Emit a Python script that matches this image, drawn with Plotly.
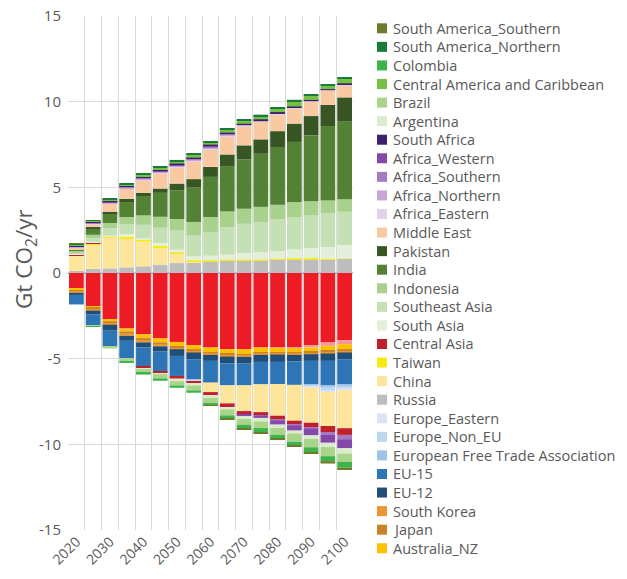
import plotly.graph_objects as go

# ── Data (Gt CO2/yr), 2020-2100 in 5-year steps ─────────────────────────────
years = [2020, 2025, 2030, 2035, 2040, 2045, 2050, 2055, 2060,
         2065, 2070, 2075, 2080, 2085, 2090, 2095, 2100]
x_labels = [2020, 2030, 2040, 2050, 2060, 2070, 2080, 2090, 2100]
y_ticks = [-15, -10, -5, 0, 5, 10, 15]
y_labels = ["-15", "-10", "-5", "0", "5", "10", "15"]

usa = [-0.90, -1.95, -2.73, -3.24, -3.57, -3.82, -4.02, -4.21, -4.35,
       -4.45, -4.45, -4.35, -4.35, -4.35, -4.21, -4.05, -3.92]
canada = [-0.02, 0, 0, 0, 0, 0, 0, 0, 0,
          0, 0, 0, -0.02, -0.04, -0.14, -0.20, -0.23]
australia_nz = [-0.08, -0.06, -0.08, -0.17, -0.23, -0.23, -0.27, -0.23, -0.29,
                -0.25, -0.29, -0.29, -0.25, -0.25, -0.25, -0.29, -0.29]
japan = [-0.08, -0.10, -0.12, -0.14, -0.14, -0.13, -0.10, -0.12, -0.08,
         -0.10, -0.09, -0.08, -0.08, -0.08, -0.08, -0.09, -0.12]
south_korea = [-0.08, -0.09, -0.09, -0.12, -0.11, -0.10, -0.06, -0.08, -0.06,
               -0.08, -0.07, -0.06, -0.06, -0.06, -0.06, -0.07, -0.08]
eu_12 = [-0.12, -0.23, -0.35, -0.29, -0.29, -0.31, -0.39, -0.39, -0.35,
         -0.39, -0.39, -0.41, -0.43, -0.39, -0.39, -0.43, -0.39]
eu_15 = [-0.55, -0.64, -0.92, -1.01, -1.11, -1.17, -1.17, -1.21, -1.27,
         -1.29, -1.27, -1.31, -1.29, -1.36, -1.36, -1.46, -1.46]
efta = [-0.02, 0, 0, 0, -0.01, 0, 0, -0.02, 0,
        0, 0, 0, 0, 0, -0.06, -0.10, -0.10]
europe_non_eu = [0, 0, 0, 0, -0.01, 0, 0, -0.02, 0,
                 0, 0, 0, 0, 0, -0.08, -0.14, -0.15]
europe_eastern = [0, 0, 0, 0, 0, 0, 0, -0.02, 0,
                  0, 0, 0, 0, 0, -0.06, -0.11, -0.10]
russia = [0.12, 0.25, 0.27, 0.33, 0.39, 0.49, 0.58, 0.64, 0.66,
          0.72, 0.72, 0.72, 0.76, 0.80, 0.80, 0.76, 0.82]
china = [0.88, 1.42, 1.79, 1.70, 1.44, 1.01, 0.58, 0.02, -0.55,
         -1.05, -1.50, -1.62, -1.85, -2.09, -2.05, -1.99, -2.22]
taiwan = [0.02, 0.03, 0.06, 0.10, 0.12, 0.10, 0.04, 0.08, 0.08,
          0.06, 0.06, 0.06, 0.06, 0.06, 0.06, 0.06, 0.02]
central_asia = [0.06, 0.08, 0, 0, -0.10, -0.08, -0.16, -0.12, -0.18,
                -0.21, -0.20, -0.18, -0.23, -0.21, -0.25, -0.35, -0.39]
south_asia = [0.05, 0.05, 0.06, 0.14, 0.08, 0.16, 0.16, 0.23, 0.27,
              0.29, 0.39, 0.43, 0.45, 0.51, 0.58, 0.70, 0.78]
southeast_asia = [0.08, 0.20, 0.43, 0.58, 0.78, 0.88, 1.11, 1.21, 1.38,
                  1.60, 1.70, 1.75, 1.85, 1.89, 1.91, 1.95, 1.95]
indonesia = [0.08, 0.20, 0.31, 0.41, 0.55, 0.64, 0.68, 0.80, 0.88,
             0.92, 0.88, 0.90, 0.86, 0.88, 0.84, 0.76, 0.74]
india = [0.06, 0.35, 0.58, 0.88, 1.09, 1.40, 1.68, 2.01, 2.34,
         2.65, 2.88, 3.10, 3.33, 3.51, 3.84, 4.35, 4.52]
pakistan = [0.03, 0.10, 0.08, 0.19, 0.23, 0.25, 0.39, 0.49, 0.58,
            0.68, 0.82, 0.84, 0.97, 1.07, 1.13, 1.23, 1.42]
middle_east = [0.08, 0.17, 0.47, 0.58, 0.74, 0.88, 0.92, 1.05, 1.01,
               1.07, 1.09, 1.03, 0.97, 0.88, 0.84, 0.82, 0.72]
africa_eastern = [0.03, 0.03, 0.03, 0.04, 0.05, 0.05, 0.05, 0.05, 0.07,
                  0.05, 0.06, 0.04, 0.04, 0.04, 0.03, 0.03, 0.03]
africa_northern = [0.03, 0.03, 0.03, 0.04, 0.05, 0.05, 0.06, 0.05, 0.07,
                   0.05, 0.06, 0.04, 0.04, 0.03, 0.03, 0.03, 0.03]
africa_southern = [0.02, 0.02, 0.03, 0.03, 0.04, 0.04, 0.04, 0.03, 0.05,
                   0.03, 0, 0, -0.05, -0.07, -0.09, -0.14, -0.25]
africa_western = [0.03, 0.03, 0.03, 0.04, 0.04, 0.04, 0.05, 0.03, 0.05,
                  0.03, -0.10, -0.16, -0.24, -0.30, -0.40, -0.49, -0.53]
south_africa = [0.04, 0.04, 0.04, 0.04, 0.05, 0.05, 0.05, 0.04, 0.05,
                0.04, 0.05, 0.06, 0.06, 0.05, 0.04, 0.04, 0.04]
argentina = [0, 0, -0.02, 0, -0.04, -0.06, -0.14, -0.14, -0.16,
             -0.14, -0.16, -0.20, -0.20, -0.16, -0.20, -0.25, -0.31]
brazil = [0, -0.03, -0.10, -0.16, -0.16, -0.25, -0.25, -0.29, -0.29,
          -0.35, -0.33, -0.39, -0.39, -0.49, -0.49, -0.53, -0.49]
central_america = [0.06, 0.05, 0.07, 0.08, 0.09, 0.09, 0.14, 0.17, 0.12,
                   0.19, 0.19, 0.19, 0.19, 0.29, 0.25, 0.22, 0.27]
colombia = [0, -0.03, 0, -0.12, -0.16, -0.14, -0.14, -0.14, -0.16,
            -0.20, -0.20, -0.23, -0.23, -0.20, -0.29, -0.29, -0.33]
sa_northern = [0.04, 0.04, 0.04, 0.05, 0.06, 0.06, 0.07, 0.08, 0.07,
               0.08, 0.08, 0.08, 0.08, 0.10, 0.09, 0.08, 0.09]
sa_southern = [0.02, 0, 0, 0, 0, 0, 0, 0, -0.02,
               -0.06, -0.06, -0.06, -0.08, -0.10, -0.10, -0.14, -0.14]

# stacking order (first = closest to zero); name, values, colour, in legend
SERIES = [
    ("United States", usa, "#ED1C24", False),
    ("Canada", canada, "#F3989B", False),
    ("Australia_NZ", australia_nz, "#FFC000", True),
    ("Japan", japan, "#C98329", True),
    ("South Korea", south_korea, "#EC962F", True),
    ("EU-12", eu_12, "#1F4E79", True),
    ("EU-15", eu_15, "#2E75B6", True),
    ("European Free Trade Association", efta, "#9DC3E6", True),
    ("Europe_Non_EU", europe_non_eu, "#BDD7EE", True),
    ("Europe_Eastern", europe_eastern, "#DAE3F3", True),
    ("Russia", russia, "#BDBDBD", True),
    ("China", china, "#FDE69C", True),
    ("Taiwan", taiwan, "#F5EA14", True),
    ("Central Asia", central_asia, "#C0202A", True),
    ("South Asia", south_asia, "#E2F0D9", True),
    ("Southeast Asia", southeast_asia, "#C5E0B4", True),
    ("Indonesia", indonesia, "#A9D18E", True),
    ("India", india, "#538235", True),
    ("Pakistan", pakistan, "#375623", True),
    ("Middle East", middle_east, "#F9C9A2", True),
    ("Africa_Eastern", africa_eastern, "#E3D1EA", True),
    ("Africa_Northern", africa_northern, "#C7A5D6", True),
    ("Africa_Southern", africa_southern, "#A47BC1", True),
    ("Africa_Western", africa_western, "#8548A8", True),
    ("South Africa", south_africa, "#3E1F6E", True),
    ("Argentina", argentina, "#D9EDCD", True),
    ("Brazil", brazil, "#A9D48A", True),
    ("Central America and Caribbean", central_america, "#78C043", True),
    ("Colombia", colombia, "#3CB449", True),
    ("South America_Northern", sa_northern, "#1A7A3A", True),
    ("South America_Southern", sa_southern, "#6E7B2B", True),
]

TEXT = "#595959"
GRID = "#D9D9D9"
FONT = "Open Sans"

W, H = 627, 579
L, R, T, B = 68, 274, 16, 49          # plot area 68..353 x 16..530


def px_x(px):
    return (px - L) / (W - L - R)


def px_y(py):
    return (H - B - py) / (H - T - B)


fig = go.Figure()
for name, vals, color, show in SERIES:
    fig.add_trace(go.Bar(
        x=years, y=vals, name=name,
        marker=dict(color=color, line=dict(width=0)),
        width=4.4, showlegend=False,
        hovertemplate=f"<b>%{{x}}</b><br>{name}: %{{y:.2f}}<extra></extra>"
    ))

# Legend drawn by hand (Excel-style tight spacing), top entry = last series
legend_items = [(n, c) for n, _, c, show in reversed(SERIES) if show]
for i, (name, color) in enumerate(legend_items):
    cy = 28.3 + 18.57 * i
    fig.add_shape(type="rect", xref="paper", yref="paper",
                  x0=px_x(377), x1=px_x(387), y0=px_y(cy + 5), y1=px_y(cy - 5),
                  fillcolor=color, line=dict(width=0))
    fig.add_annotation(x=px_x(391), y=px_y(cy), xref="paper", yref="paper",
                       text=name, showarrow=False, xanchor="left", yanchor="middle",
                       font=dict(size=14.5, color=TEXT, family=FONT))

# y-axis title (sits a little above the plot centre, as in Excel)
fig.add_annotation(x=px_x(25), y=px_y(259), xref="paper", yref="paper",
                   text="Gt CO<sub>2</sub>/yr", textangle=-90, showarrow=False,
                   xanchor="center", yanchor="middle",
                   font=dict(size=22.5, color=TEXT, family=FONT))

fig.update_layout(
    barmode="relative",
    width=W, height=H,
    margin=dict(l=L, r=R, t=T, b=B, autoexpand=False),
    paper_bgcolor="white", plot_bgcolor="white",
    font=dict(family=FONT, color=TEXT),
    showlegend=False,
    xaxis=dict(
        range=[2017.5, 2102.5],
        tickvals=x_labels,
        tickangle=-45, tickfont=dict(size=14, color=TEXT),
        showgrid=False, zeroline=False, showline=False, ticks="",
        minor=dict(tickmode="array",
                   tickvals=[2017.5 + 5 * i for i in range(18)],
                   showgrid=True, gridcolor=GRID, gridwidth=1),
    ),
    yaxis=dict(
        range=[-15, 15],
        tickvals=y_ticks, ticktext=y_labels,
        tickfont=dict(size=15, color=TEXT),
        ticklabeloverflow="allow",
        showgrid=True, gridcolor=GRID, gridwidth=1,
        zeroline=True, zerolinecolor="#A9C4E4", zerolinewidth=1.5,
        ticklabelstandoff=6,
    ),
)

# drop the browser's default 8px body margin so the figure fills the window
fig.write_html("out.html", config={"displayModeBar": False},
               post_script="document.body.style.margin = '0';")
